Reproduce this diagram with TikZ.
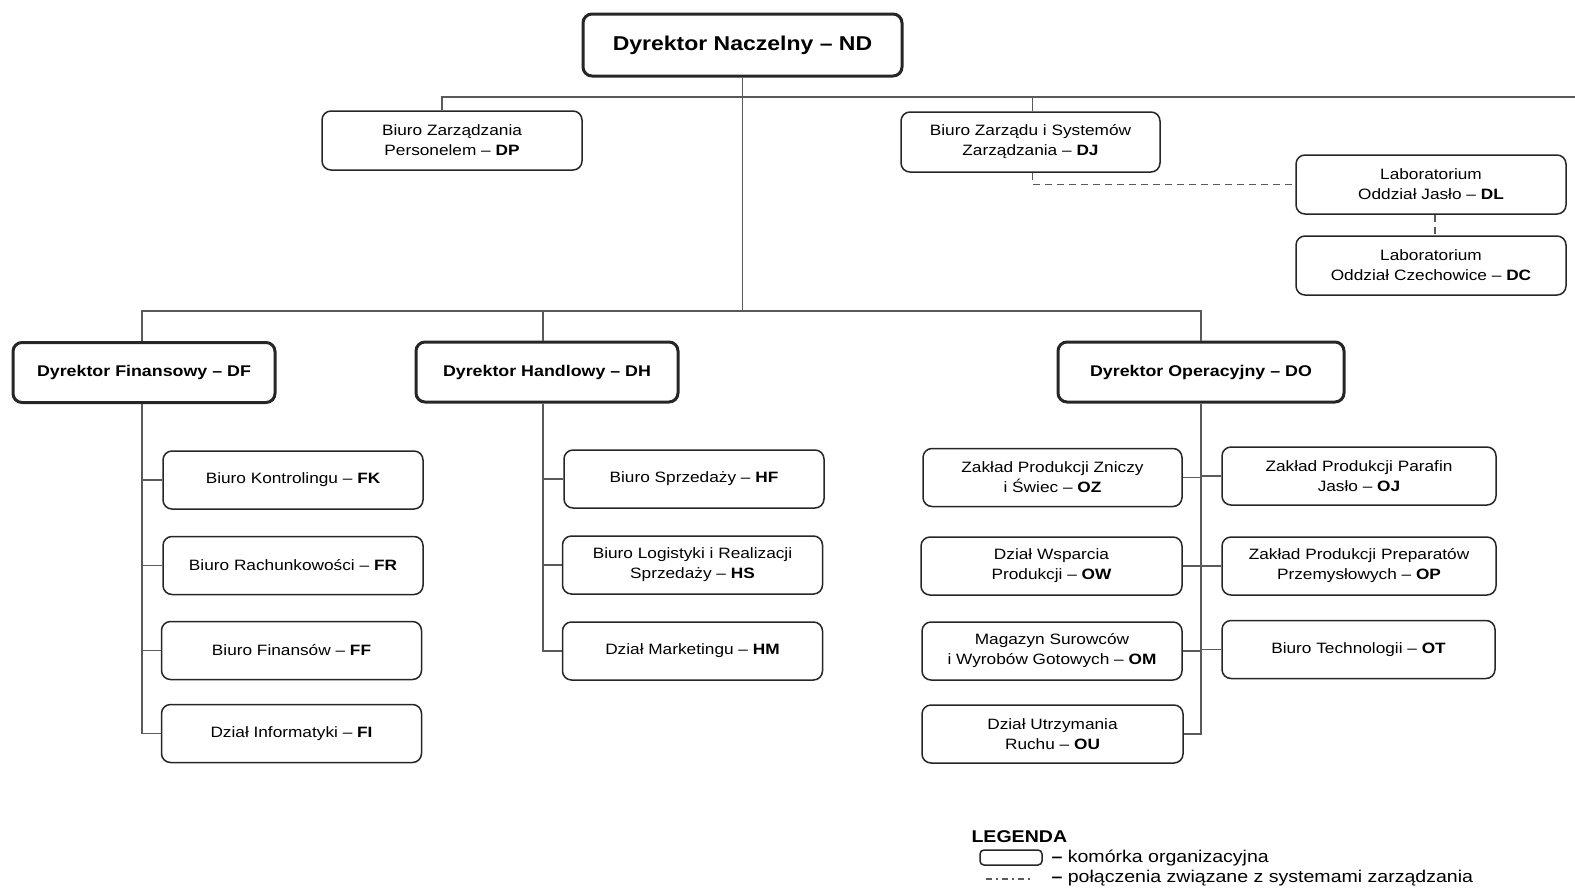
\documentclass[tikz,border=0pt]{standalone}
\usepackage{fontspec}
\setmainfont{Liberation Sans}[FakeStretch=1.15]
\usepackage{tikz}
\usetikzlibrary{positioning,calc}

\definecolor{boxline}{HTML}{262626}
\definecolor{linkline}{HTML}{5A5A5A}

\begin{document}
\begin{tikzpicture}[
  x=1pt, y=-1pt,
  every node/.style={font=\fontsize{15}{20}\selectfont},
  unit/.style={draw=boxline, line width=1.5pt, rounded corners=9pt, align=center,
    minimum width=260pt, minimum height=58pt, inner sep=0pt},
  director/.style={unit, line width=3pt, font=\bfseries\fontsize{15.5}{20}\selectfont,
    minimum height=60pt},
  link/.style={draw=linkline, line width=1.5pt}, % plain reporting line
  mgmt/.style={draw=linkline, line width=1.5pt, dash pattern=on 7pt off 5pt},
  ]
\useasboundingbox (0,0) rectangle (1575,892);

% Head
\node[director, font=\bfseries\fontsize{20}{24}\selectfont, minimum width=319pt, minimum height=62pt]
  (nd) at (742.5,45) {Dyrektor Naczelny -- ND};

% Staff offices
\node[unit, minimum height=59pt] (dp) at (452,140.5) {Biuro Zarządzania\\Personelem -- \textbf{DP}};
\node[unit, minimum width=259pt, minimum height=60pt] (dj) at (1030.5,142) {Biuro Zarządu i Systemów\\Zarządzania -- \textbf{DJ}};
\node[unit, minimum width=270pt, minimum height=59pt] (dl) at (1431,184.5) {Laboratorium\\Oddział Jasło -- \textbf{DL}};
\node[unit, minimum width=270pt, minimum height=59pt] (dc) at (1431,265.5) {Laboratorium\\Oddział Czechowice -- \textbf{DC}};

% Directors
\node[director, minimum width=262pt] (df) at (144,372.5) {Dyrektor Finansowy -- DF};
\node[director, minimum width=262pt] (dh) at (547,372) {Dyrektor Handlowy -- DH};
\node[director, minimum width=286pt] (do) at (1201,372) {Dyrektor Operacyjny -- DO};

% Finance
\node[unit] (fk) at (293,480) {Biuro Kontrolingu -- \textbf{FK}};
\node[unit] (fr) at (293,565.5) {Biuro Rachunkowości -- \textbf{FR}};
\node[unit] (ff) at (291.5,650.5) {Biuro Finansów -- \textbf{FF}};
\node[unit] (fi) at (291.5,733.5) {Dział Informatyki -- \textbf{FI}};

% Sales
\node[unit] (hf) at (694,479) {Biuro Sprzedaży -- \textbf{HF}};
\node[unit] (hs) at (692.5,565) {Biuro Logistyki i Realizacji\\Sprzedaży -- \textbf{HS}};
\node[unit] (hm) at (692.5,651) {Dział Marketingu -- \textbf{HM}};

% Operations, left column
\node[unit, minimum width=259pt] (oz) at (1052.5,477.5) {Zakład Produkcji Zniczy\\i Świec -- \textbf{OZ}};
\node[unit, minimum width=261pt] (ow) at (1051.5,566) {Dział Wsparcia\\Produkcji -- \textbf{OW}};
\node[unit] (om) at (1052,651) {Magazyn Surowców\\i Wyrobów Gotowych -- \textbf{OM}};
\node[unit, minimum width=261pt] (ou) at (1052.5,734) {Dział Utrzymania\\Ruchu -- \textbf{OU}};

% Operations, right column
\node[unit, minimum width=274pt] (oj) at (1359,476) {Zakład Produkcji Parafin\\Jasło -- \textbf{OJ}};
\node[unit, minimum width=274pt] (op) at (1359,566) {Zakład Produkcji Preparatów\\Przemysłowych -- \textbf{OP}};
\node[unit, minimum width=273pt] (ot) at (1358.5,649.5) {Biuro Technologii -- \textbf{OT}};

% Buses
\coordinate (topbus) at (742.5,97);
\coordinate (topend) at (1575,97);
\coordinate (midbus) at (742.5,311);

% Head to staff
\draw[link] (nd.south) -- (midbus);
\draw[link] ([xshift=-10pt]dp.north) |- (topend);
\draw[link] ([xshift=2pt]dj.north) -- ([xshift=2pt]dj.north |- topbus);
\draw[mgmt] ([xshift=2pt]dj.south) |- (dl.west);
\draw[mgmt] ([xshift=4pt]dl.south) -- ([xshift=4pt]dc.north);

% Head to directors
\draw[link] ([xshift=-2pt]df.north) |- (midbus);
\draw[link] (do.north) |- (midbus);
\draw[link] ([xshift=-4pt]dh.north) -- ([xshift=-4pt]dh.north |- midbus);

% Finance tree
\draw[link] ([xshift=-2pt]df.south) |- (fi.west);
\foreach \c in {fk,fr,ff}
  \draw[link] ([xshift=-2pt]df.south |- \c.west) -- (\c.west);

% Sales tree
\draw[link] ([xshift=-4pt]dh.south) |- (hm.west);
\foreach \c in {hf,hs}
  \draw[link] ([xshift=-4pt]dh.south |- \c.west) -- (\c.west);

% Operations tree
\draw[link] (do.south) |- (ou.east);
\foreach \c in {oz,ow,om}
  \draw[link] (do.south |- \c.east) -- (\c.east);
\foreach \c in {oj,op,ot}
  \draw[link] (do.south |- \c.west) -- (\c.west);

% Legend
\node[anchor=west, font=\bfseries\fontsize{17}{20}\selectfont] (legend) at (968,837) {LEGENDA};
\node[draw=boxline, line width=1.5pt, rounded corners=4pt, minimum width=62pt, minimum height=15pt,
  inner sep=0pt] (legbox) at (1011,857.5) {};
\node[anchor=west, font=\fontsize{17}{20}\selectfont] (legunit) at (1048,858) {\textbf{–} komórka organizacyjna};
\coordinate (lega) at (986,879);
\coordinate (legb) at (1032,879);
\draw[draw=linkline, line width=1.5pt, dash pattern=on 6pt off 4pt on 2pt off 4pt] (lega) -- (legb);
\node[anchor=west, font=\fontsize{17}{20}\selectfont] (legmgmt) at (1048,878) {\textbf{–} połączenia związane z systemami zarządzania};

\end{tikzpicture}
\end{document}
